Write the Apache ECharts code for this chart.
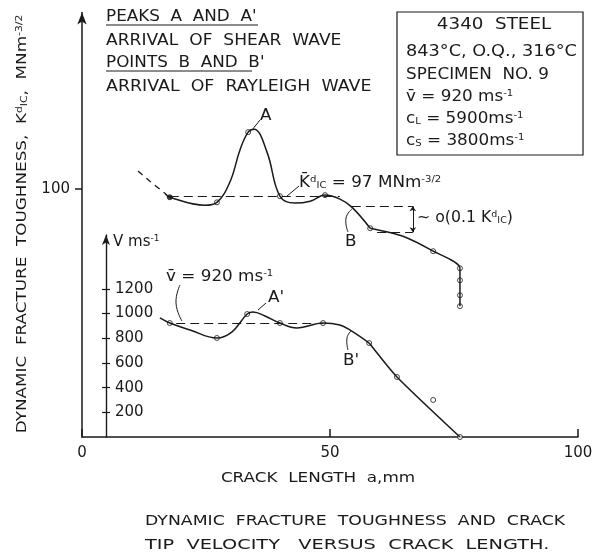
<!DOCTYPE html>
<html>
<head>
<meta charset="utf-8">
<script src="https://cdn.jsdelivr.net/npm/echarts@6/dist/echarts.min.js"></script>
<style>
  html, body { margin: 0; background: #fff; }
  #main { width: 597px; height: 559px; }
</style>
</head>
<body>
<div id="main"></div>
<script>
var FONT = 'DejaVu Sans';
var INK = '#1a1a1a';

// axis ticks
var xTicks = [0, 50, 100];
var kTicks = [100];
var vTicks = [200, 400, 600, 800, 1000, 1200];

// K_IC^d (MNm^-3/2) against crack length a (mm)
var kLeadA = [11.3, 13.7, 16.7];
var kLeadK = [106.6, 102.8, 98.3];
// drawn curve, up to the knee after B
var kCurveA = [16.7, 17.7, 24.8, 27.2, 29.8, 31.9, 33.5, 34.7, 37.3, 39.9, 42.9, 46.0, 49.0, 52.0, 54.4, 58.1];
var kCurveK = [98.3, 96.8, 93.8, 94.9, 102.4, 114.8, 121.2, 122.3, 113.7, 97.2, 94.6, 95.3, 97.6, 96.1, 93.1, 85.2];
// drawn curve, tail
var kTailA = [58.1, 64.7, 70.8, 76.2, 76.2];
var kTailK = [85.2, 82.2, 76.6, 70.2, 56.0];
var kPtA = [17.7, 27.2, 33.5, 39.9, 49.0, 58.1, 70.8, 76.2, 76.2, 76.2, 76.2];
var kPtK = [96.8, 94.9, 121.2, 97.2, 97.6, 85.2, 76.6, 70.2, 65.7, 60.1, 56.0];
var kMean = 97;
var kBracket = [93.4, 83.7];   // ~0(0.1 K)

// crack tip velocity (m/s)
var vCurveA = [15.7, 17.7, 21.8, 27.2, 30.2, 33.3, 34.5, 36.9, 39.9, 43.3, 48.6, 52.0, 54.0, 57.9];
var vCurveV = [964, 923, 867, 802, 850, 996, 1013, 980, 923, 883, 923, 907, 867, 761];
var vTailA = [57.9, 63.5, 76.2];
var vTailV = [761, 486, 0];
var vPtA = [17.7, 27.2, 33.3, 39.9, 48.6, 57.9, 63.5, 70.8, 76.2];
var vPtV = [923, 802, 996, 923, 923, 761, 486, 300, 0];
var vMean = 920;
var vMax = 1636;

function zip(a, b) {
  return a.map(function (x, i) { return [x, b[i]]; });
}

var chart = echarts.init(document.getElementById('main'), null, { renderer: 'canvas' });

var dashed = { type: [9, 5], color: INK, width: 1 };
var supSub = {
  sup: { fontSize: 9, verticalAlign: 'top', fontFamily: FONT, color: INK },
  sub: { fontSize: 9, verticalAlign: 'bottom', fontFamily: FONT, color: INK }
};

// lettering in the original is wide, so stretch text a little
function txt(x, y, text, size, sx, extra, rot) {
  var o = {
    type: 'text', x: x, y: y, silent: true, scaleX: sx || 1.12, rotation: rot || 0,
    style: {
      text: text, fontFamily: FONT, fontSize: size || 15, fill: INK,
      verticalAlign: 'middle', rich: supSub
    }
  };
  if (extra) Object.assign(o.style, extra);
  return o;
}
function line(pts, smooth) {
  return { type: 'polyline', silent: true, shape: { points: pts, smooth: smooth || 0 },
           style: { stroke: INK, lineWidth: 1, fill: null } };
}

var options = {
  animation: false,
  backgroundColor: '#fff',
  grid: [
    { left: 82, right: 19, top: 12.5, bottom: 122 },
    { left: 82, right: 19, top: 235, bottom: 122 }
  ],
  xAxis: [
    {
      gridIndex: 0, type: 'value', min: 0, max: 100,
      axisLine: { lineStyle: { color: INK, width: 1.5 } },
      axisTick: { inside: true, length: 8, customValues: xTicks, lineStyle: { color: INK, width: 1.5 } },
      axisLabel: { customValues: xTicks, fontFamily: FONT, fontSize: 15, color: INK, margin: 9 },
      splitLine: { show: false }
    },
    { gridIndex: 1, type: 'value', min: 0, max: 100, show: false }
  ],
  yAxis: [
    {
      gridIndex: 0, type: 'value', min: 7, max: 166,
      axisLine: { lineStyle: { color: INK, width: 1.5 }, symbol: ['none', 'arrow'], symbolSize: [7, 12] },
      axisTick: { customValues: kTicks, length: 7, lineStyle: { color: INK, width: 1.5 } },
      axisLabel: { customValues: kTicks, fontFamily: FONT, fontSize: 15, color: INK, margin: 12 },
      splitLine: { show: false }
    },
    {
      gridIndex: 1, type: 'value', min: 0, max: vMax, position: 'left', offset: -24,
      axisLine: { lineStyle: { color: INK, width: 1.2 }, symbol: ['none', 'arrow'], symbolSize: [6, 10] },
      axisTick: { customValues: vTicks, length: 4, lineStyle: { color: INK, width: 1.2 } },
      axisLabel: {
        customValues: vTicks, inside: true, fontFamily: FONT, fontSize: 15, color: INK, margin: 9,
        formatter: function (v) { return String(v); }
      },
      splitLine: { show: false }
    },
    {
      // same scale again, only for the inner half of the crossing ticks
      gridIndex: 1, type: 'value', min: 0, max: vMax, position: 'left', offset: -24,
      axisLine: { show: true, lineStyle: { color: INK, width: 1.2 } },
      axisTick: { show: true, customValues: vTicks, inside: true, length: 4, lineStyle: { color: INK, width: 1.2 } },
      axisLabel: { show: false },
      splitLine: { show: false }
    }
  ],
  series: [
    {
      type: 'line', xAxisIndex: 0, yAxisIndex: 0, data: zip(kLeadA, kLeadK),
      smooth: 0.3, symbol: 'none', lineStyle: { color: INK, width: 1.3, type: [6, 5] }
    },
    {
      type: 'line', xAxisIndex: 0, yAxisIndex: 0, data: zip(kCurveA, kCurveK),
      smooth: 0.4, symbol: 'none', lineStyle: { color: INK, width: 1.5 },
      markLine: {
        silent: true, symbol: 'none', label: { show: false }, lineStyle: dashed,
        data: [
          [{ coord: [17.7, kMean] }, { coord: [52, kMean] }],
          [{ coord: [54.4, kBracket[0]] }, { coord: [66.7, kBracket[0]] }],
          [{ coord: [59.5, kBracket[1]] }, { coord: [66.7, kBracket[1]] }]
        ]
      }
    },
    {
      type: 'line', xAxisIndex: 0, yAxisIndex: 0, data: zip(kTailA, kTailK),
      smooth: 0.25, symbol: 'none', lineStyle: { color: INK, width: 1.5 },
      markLine: {
        silent: true, symbol: ['arrow', 'arrow'], symbolSize: 5, label: { show: false },
        lineStyle: { color: INK, width: 1, type: 'solid' },
        data: [[{ coord: [66.7, kBracket[0]] }, { coord: [66.7, kBracket[1]] }]]
      }
    },
    {
      type: 'scatter', xAxisIndex: 0, yAxisIndex: 0, symbolSize: 5,
      itemStyle: { color: '#fff', borderColor: INK, borderWidth: 1 },
      data: zip(kPtA, kPtK).map(function (p, i) {
        return i === 0 ? { value: p, itemStyle: { color: INK } } : p;
      })
    },
    {
      type: 'line', xAxisIndex: 1, yAxisIndex: 1, data: zip(vCurveA, vCurveV),
      smooth: 0.4, symbol: 'none', lineStyle: { color: INK, width: 1.5 },
      markLine: {
        silent: true, symbol: 'none', label: { show: false }, lineStyle: dashed,
        data: [[{ coord: [19, vMean] }, { coord: [48.6, vMean] }]]
      }
    },
    {
      type: 'line', xAxisIndex: 1, yAxisIndex: 2, data: zip(vTailA, vTailV),
      smooth: 0.2, symbol: 'none', lineStyle: { color: INK, width: 1.5 }
    },
    {
      type: 'scatter', xAxisIndex: 1, yAxisIndex: 1, symbolSize: 5,
      itemStyle: { color: '#fff', borderColor: INK, borderWidth: 1 },
      data: zip(vPtA, vPtV)
    }
  ],
  graphic: [
    // axis titles
    txt(22, 224, 'DYNAMIC  FRACTURE  TOUGHNESS,  K{sup|d}{sub|IC},  MNm{sup|-3/2}', 14, 1.2,
        { align: 'center' }, Math.PI / 2),
    txt(318, 478, 'CRACK  LENGTH  a,mm', 14, 1.2, { align: 'center' }),
    // legend notes top left
    txt(106, 17, 'PEAKS  A  AND  A\''),
    line([[106, 25], [258, 25]]),
    txt(106, 41, 'ARRIVAL  OF  SHEAR  WAVE', 15, 1.14),
    txt(106, 63, 'POINTS  B  AND  B\''),
    line([[106, 71], [252, 71]]),
    txt(106, 87, 'ARRIVAL  OF  RAYLEIGH  WAVE', 15, 1.16),
    // material box
    { type: 'rect', silent: true, shape: { x: 397, y: 12, width: 186, height: 143 },
      style: { stroke: INK, lineWidth: 1.2, fill: null } },
    txt(494, 25, '4340  STEEL', 15, 1.22, { align: 'center' }),
    txt(406, 52, '843°C, O.Q., 316°C', 15, 1.18),
    txt(406, 75, 'SPECIMEN  NO. 9'),
    txt(406, 97, 'v\u0304 = 920 ms{sup|-1}'),
    txt(406, 119, 'c{sub|L} = 5900ms{sup|-1}'),
    txt(406, 141, 'c{sub|S} = 3800ms{sup|-1}'),
    // curve annotations
    txt(260, 116, 'A'),
    line([[252, 130], [260, 120]]),
    txt(299, 183, 'K\u0304{sup|d}{sub|IC} = 97 MNm{sup|-3/2}', 15, 1.12),
    line([[287, 196], [299, 186]]),
    txt(345, 242, 'B'),
    line([[348, 232], [346, 218], [352, 209]], 0.5),
    txt(417, 218, '~ o(0.1 K{sup|d}{sub|IC})', 15, 1.05),
    txt(268, 298, 'A\''),
    line([[258, 310], [266, 303]]),
    txt(343, 361, 'B\''),
    line([[348, 350], [347, 338], [351, 331]], 0.5),
    txt(166, 277, 'v\u0304 = 920 ms{sup|-1}'),
    line([[180, 285], [176, 303], [182, 321]], 0.5),
    txt(113, 242, 'V ms{sup|-1}', 15, 1),
    // caption
    txt(145, 521, 'DYNAMIC  FRACTURE  TOUGHNESS  AND  CRACK', 14, 1.235),
    txt(145, 545, 'TIP  VELOCITY   VERSUS  CRACK  LENGTH.', 14, 1.38)
  ]
};

chart.setOption(options);
</script>
</body>
</html>
